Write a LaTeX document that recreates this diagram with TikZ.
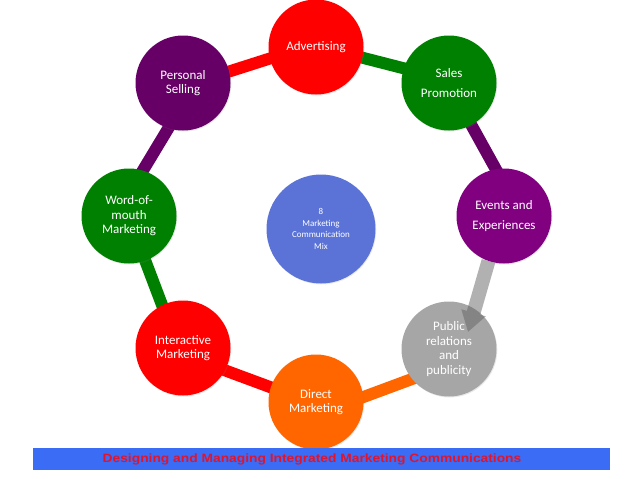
\documentclass[tikz,border=0pt]{standalone}
\usepackage{fontspec}
\setmainfont{Carlito}
\newfontfamily\bannerfont{Liberation Sans}
\usepackage{graphicx}
\usetikzlibrary{arrows.meta,calc,shadows}
\pgfdeclarelayer{background}
\pgfsetlayers{background,main}
\definecolor{adred}{RGB}{255,0,0}
\definecolor{mixgreen}{RGB}{0,128,0}
\definecolor{darkplum}{RGB}{102,0,102}
\definecolor{plum}{RGB}{128,0,128}
\definecolor{prgray}{RGB}{166,166,166}
\definecolor{dmorange}{RGB}{255,102,0}
\definecolor{mixblue}{RGB}{91,115,214}
\definecolor{bannerblue}{RGB}{58,108,245}
\definecolor{bannerred}{RGB}{225,20,45}
\tikzset{
  mixnode/.style={circle, fill=#1, minimum size=95pt, inner sep=1pt, align=center,
    text=white, font=\fontsize{13}{14.5}\selectfont,
    drop shadow={opacity=0.18, shadow xshift=0.8pt, shadow yshift=-1pt}},
  hubnode/.style={circle, fill=mixblue, minimum size=109pt, inner sep=1pt, align=center,
    text=white, font=\fontsize{9}{11.5}\selectfont,
    drop shadow={opacity=0.15, shadow xshift=0.8pt, shadow yshift=-1pt}},
  linkbar/.style={draw=#1, line width=12pt, shorten <=-6pt, shorten >=-6pt},
  prarrow/.style={-{Triangle[length=20pt,width=24pt]}, line width=14pt, draw=black!61, fill=black!61},
}

\begin{document}
\begin{tikzpicture}[x=1pt, y=-1pt]
  \useasboundingbox (0,0) rectangle (638,479);
  \node[mixnode=adred] (ad) at (316,47) {Advertising};
  \node[mixnode=darkplum] (ps) at (183,83) {Personal\\Selling};
  \node[mixnode=mixgreen] (sp) at (449,83) {Sales\\[5pt]Promotion};
  \node[mixnode=plum] (ev) at (504,216) {Events and\\[5pt]Experiences};
  \node[mixnode=prgray] (pr) at (449,349) {Public\\relations\\and\\publicity};
  \node[mixnode=dmorange] (dm) at (316,402) {Direct\\Marketing};
  \node[mixnode=adred] (im) at (183,348) {Interactive\\Marketing};
  \node[mixnode=mixgreen] (wm) at (129,216) {Word-of-\\mouth\\Marketing};
  \node[hubnode] (mix) at (321,229) {8\\Marketing\\Communication\\Mix};
  \coordinate (prtip) at (468,332);

  \begin{pgfonlayer}{background}
    \draw[linkbar=adred] (ps.14) -- (ad.-166);
    \draw[linkbar=mixgreen] (ad.-13) -- (sp.162);
    \draw[linkbar=darkplum] (sp.-62) -- (ev.100);
    \draw[linkbar=dmorange] (pr.-141) -- (dm.6);
    \draw[linkbar=adred] (dm.162) -- (im.-28);
    \draw[linkbar=mixgreen] (im.116) -- (wm.-70);
    \draw[linkbar=darkplum] (wm.73) -- (ps.-108);
  \end{pgfonlayer}

  \begin{scope}[transparency group, opacity=0.5]
    \draw[prarrow] (ev.-109) -- (prtip);
  \end{scope}

  \node[fill=bannerblue, minimum width=577pt, minimum height=22pt, inner sep=0pt] (banner) at (321.5,459) {};
  \node[text=bannerred, inner sep=0pt, font=\bannerfont\bfseries\fontsize{12}{14}\selectfont] (title) at (312,459)
    {\scalebox{1.15}[1]{Designing and Managing Integrated Marketing Communications}};
\end{tikzpicture}
\end{document}
